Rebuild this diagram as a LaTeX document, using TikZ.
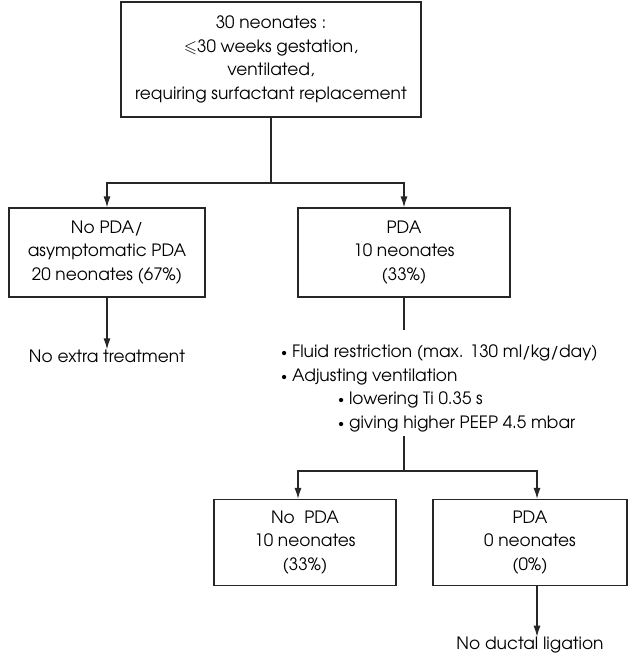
\documentclass[tikz,border=0pt]{standalone}
\usepackage{amssymb}
\usepackage{fontspec}
\setmainfont{TeX Gyre Adventor}
\usetikzlibrary{arrows.meta}
\tikzset{
	box/.style={draw=black!85, line width=1.2pt, align=center, inner sep=0pt},
	link/.style={draw=black!85, line width=1.2pt},
	arrow/.style={link, -{Latex[length=11pt,width=7pt]}},
	plain/.style={align=center, inner sep=0pt}
}
\newcommand{\dotitem}{\raisebox{1pt}{\scalebox{0.7}{\textbullet}}\ }

\begin{document}
\begin{tikzpicture}[x=1pt, y=-1pt, font=\fontsize{17}{23.5}\selectfont]
		%%%%% START %%%%%
		\useasboundingbox (0,0) rectangle (628,654);
		
		\node[box, minimum width=300pt, minimum height=115pt] (all) at (271,59.5)
			{30 neonates :\\ $\leqslant$30 weeks gestation,\\ ventilated,\\ requiring surfactant replacement};
		
		\node[box, minimum width=196pt, minimum height=89pt] (nopda) at (107,252.5)
			{No PDA/\\ asymptomatic PDA\\ 20 neonates (67\%)};
		\node[box, minimum width=212pt, minimum height=89pt] (pda) at (404,252.5)
			{PDA\\ 10 neonates\\ (33\%)};
		
		\coordinate (split) at (271,183);
		\draw[link] (all) -- (split);
		\draw[arrow] (split) -| (nopda);
		\draw[arrow] (split) -| (pda);
		
		\node[plain] (noextra) at (107,356) {No extra treatment};
		\draw[arrow] (nopda) -- (noextra);
		
		\node[plain, align=left, anchor=north west] (steps) at (281,345)
			{\dotitem Fluid restriction (max. 130 ml/kg/day)\\
			 \dotitem Adjusting ventilation\\
			 \hspace*{57pt}\dotitem lowering Ti 0.35 s\\
			 \hspace*{57pt}\dotitem giving higher PEEP 4.5 mbar};
		\coordinate (steptop) at (404,330);
		\coordinate (stepbot) at (404,436);
		\draw[link] (pda) -- (steptop);
		
		\node[box, minimum width=182pt, minimum height=86pt] (closed) at (305,542.5)
			{No~ PDA\\ 10 neonates\\ (33\%)};
		\node[box, minimum width=194pt, minimum height=86pt] (open) at (530,542.5)
			{PDA\\ 0 neonates\\ (0\%)};
		
		\coordinate (split2) at (404,471);
		\draw[link] (stepbot) -- (split2);
		\draw[arrow] (split2) -| ([xshift=-7pt]closed.north);
		\draw[arrow] (split2) -| ([xshift=7pt]open.north);
		
		\node[plain] (noligation) at (530,645) {No ductal ligation};
		\draw[arrow] ([xshift=7pt]open.south) -- ([xshift=7pt]open.south |- noligation.north);
		
		%%%%% END %%%%%
	\end{tikzpicture}
\end{document}
